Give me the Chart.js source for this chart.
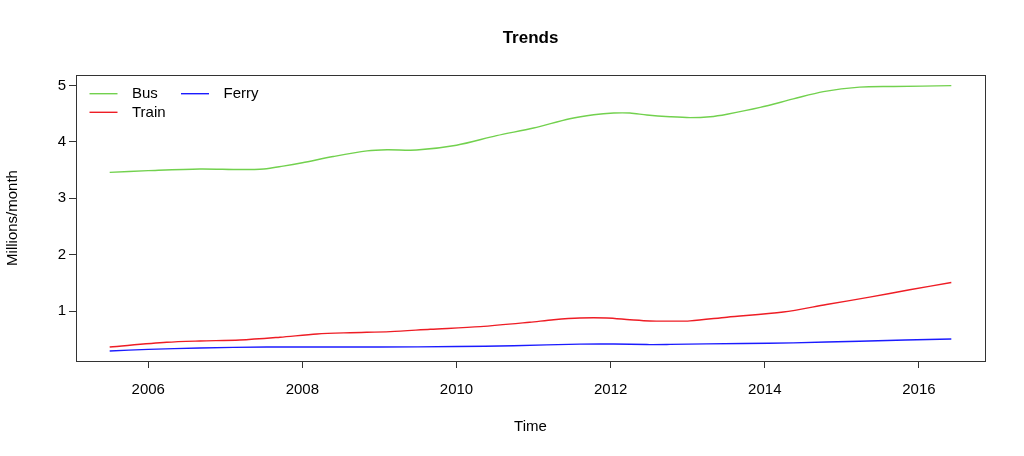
<!DOCTYPE html>
<html>
<head>
<meta charset="utf-8">
<script src="https://cdn.jsdelivr.net/npm/chart.js@4.4.1/dist/chart.umd.min.js"></script>
<style>
  html, body { margin: 0; padding: 0; background: #fff; }
</style>
</head>
<body>
<canvas id="trends" width="1024" height="456"></canvas>
<script>
// values (decimal year, millions per month)
const busYears = [2005.5, 2006.0, 2006.67, 2007.2, 2007.5, 2007.75, 2008.0, 2008.4, 2008.84, 2009.1, 2009.48, 2010.0, 2010.52, 2011.0, 2011.47, 2011.78, 2012.04, 2012.25, 2012.47, 2012.77, 2013.03, 2013.29, 2013.51, 2013.94, 2014.37, 2014.76, 2015.23, 2015.67, 2016.42];
const busValues = [3.46, 3.49, 3.52, 3.51, 3.52, 3.57, 3.63, 3.74, 3.84, 3.86, 3.855, 3.94, 4.11, 4.245, 4.41, 4.48, 4.51, 4.51, 4.475, 4.445, 4.43, 4.445, 4.49, 4.61, 4.76, 4.89, 4.97, 4.98, 4.995];

const trainYears = [2005.5, 2006.24, 2006.67, 2007.19, 2007.71, 2008.19, 2008.62, 2009.14, 2009.66, 2010.31, 2010.95, 2011.26, 2011.6, 2011.95, 2012.25, 2012.51, 2012.77, 2013.03, 2013.51, 2014.24, 2014.8, 2015.36, 2015.88, 2016.42];
const trainValues = [0.367, 0.45, 0.473, 0.49, 0.54, 0.597, 0.62, 0.64, 0.68, 0.727, 0.805, 0.85, 0.88, 0.88, 0.85, 0.828, 0.825, 0.83, 0.895, 0.987, 1.12, 1.25, 1.38, 1.51];

const ferryYears = [2005.5, 2006.0, 2006.67, 2007.54, 2009.0, 2010.0, 2010.74, 2011.6, 2012.04, 2012.47, 2012.77, 2013.72, 2014.37, 2015.23, 2016.42];
const ferryValues = [0.296, 0.325, 0.349, 0.367, 0.367, 0.375, 0.39, 0.418, 0.42, 0.41, 0.413, 0.43, 0.44, 0.47, 0.509];

const xTicks = [2006, 2008, 2010, 2012, 2014, 2016];
const yTicks = [1, 2, 3, 4, 5];

const FONT = "'Liberation Sans', Arial, Helvetica, sans-serif";
const AXIS_COLOR = '#333';

function toPoints(xs, ys) {
  return xs.map((x, i) => ({ x: x, y: ys[i] }));
}

function series(label, xs, ys, color) {
  return {
    label: label,
    data: toPoints(xs, ys),
    borderColor: color,
    backgroundColor: color,
    borderWidth: 1.4,
    pointRadius: 0,
    tension: 0.3,
    fill: false
  };
}

// R style box around the plot region
const boxPlugin = {
  id: 'box',
  afterDraw(chart) {
    const { ctx, chartArea } = chart;
    ctx.save();
    ctx.strokeStyle = AXIS_COLOR;
    ctx.lineWidth = 1;
    ctx.strokeRect(chartArea.left + 0.5, chartArea.top + 0.5,
      chartArea.right - chartArea.left, chartArea.bottom - chartArea.top);
    ctx.restore();
  }
};

// legend inside the plot, two columns: Bus / Train, then Ferry
const insideLegend = {
  id: 'insideLegend',
  afterDatasetsDraw(chart) {
    const { ctx, chartArea } = chart;
    const slots = { 'Bus': [0, 0], 'Train': [0, 1], 'Ferry': [1, 0] };
    ctx.save();
    ctx.font = '15px ' + FONT;
    ctx.textBaseline = 'middle';
    ctx.fillStyle = '#000';
    chart.data.datasets.forEach(ds => {
      const [col, row] = slots[ds.label];
      const x0 = chartArea.left + 13.5 + col * 91.5;
      const y0 = chartArea.top + 18.7 + row * 18.6;
      ctx.strokeStyle = ds.borderColor;
      ctx.lineWidth = 1.4;
      ctx.beginPath();
      ctx.moveTo(x0, y0);
      ctx.lineTo(x0 + 28, y0);
      ctx.stroke();
      ctx.fillText(ds.label, x0 + 42.5, y0 + 0.5);
    });
    ctx.restore();
  }
};

new Chart(document.getElementById('trends'), {
  type: 'line',
  data: {
    datasets: [
      series('Bus', busYears, busValues, '#72D14E'),
      series('Train', trainYears, trainValues, '#EE1D25'),
      series('Ferry', ferryYears, ferryValues, '#1B1BFF')
    ]
  },
  options: {
    responsive: false,
    devicePixelRatio: 1,
    animation: false,
    layout: { padding: { top: 0, right: 39, bottom: 0, left: 0 } },
    plugins: {
      legend: { display: false },
      tooltip: { enabled: false },
      title: {
        display: true,
        text: 'Trends',
        fullSize: false,
        color: '#000',
        font: { family: FONT, size: 17, weight: 'bold', lineHeight: 1.2 },
        padding: { top: 28, bottom: 26.6 }
      }
    },
    scales: {
      x: {
        type: 'linear',
        min: 2005.063,
        max: 2016.857,
        afterBuildTicks: axis => { axis.ticks = xTicks.map(v => ({ value: v })); },
        afterFit: axis => { axis.height = 95; },
        ticks: {
          color: '#000',
          font: { family: FONT, size: 15 },
          padding: 13,
          maxRotation: 0,
          autoSkip: false,
          callback: v => String(v)
        },
        grid: { drawOnChartArea: false, drawTicks: true, tickLength: 7, color: AXIS_COLOR },
        border: { display: false },
        title: {
          display: true,
          text: 'Time',
          color: '#000',
          font: { family: FONT, size: 15, lineHeight: 1.2 },
          padding: { top: 0, bottom: 20 }
        }
      },
      y: {
        type: 'linear',
        min: 0.119,
        max: 5.184,
        afterBuildTicks: axis => { axis.ticks = yTicks.map(v => ({ value: v })); },
        afterFit: axis => { axis.width = 76; },
        ticks: {
          color: '#000',
          font: { family: FONT, size: 15 },
          padding: 3,
          autoSkip: false,
          callback: v => String(v)
        },
        grid: { drawOnChartArea: false, drawTicks: true, tickLength: 7, color: AXIS_COLOR },
        border: { display: false },
        title: {
          display: true,
          text: 'Millions/month',
          color: '#000',
          font: { family: FONT, size: 15, lineHeight: 1.2 },
          padding: { top: 4, bottom: 0 }
        }
      }
    }
  },
  plugins: [boxPlugin, insideLegend]
});
</script>
</body>
</html>
